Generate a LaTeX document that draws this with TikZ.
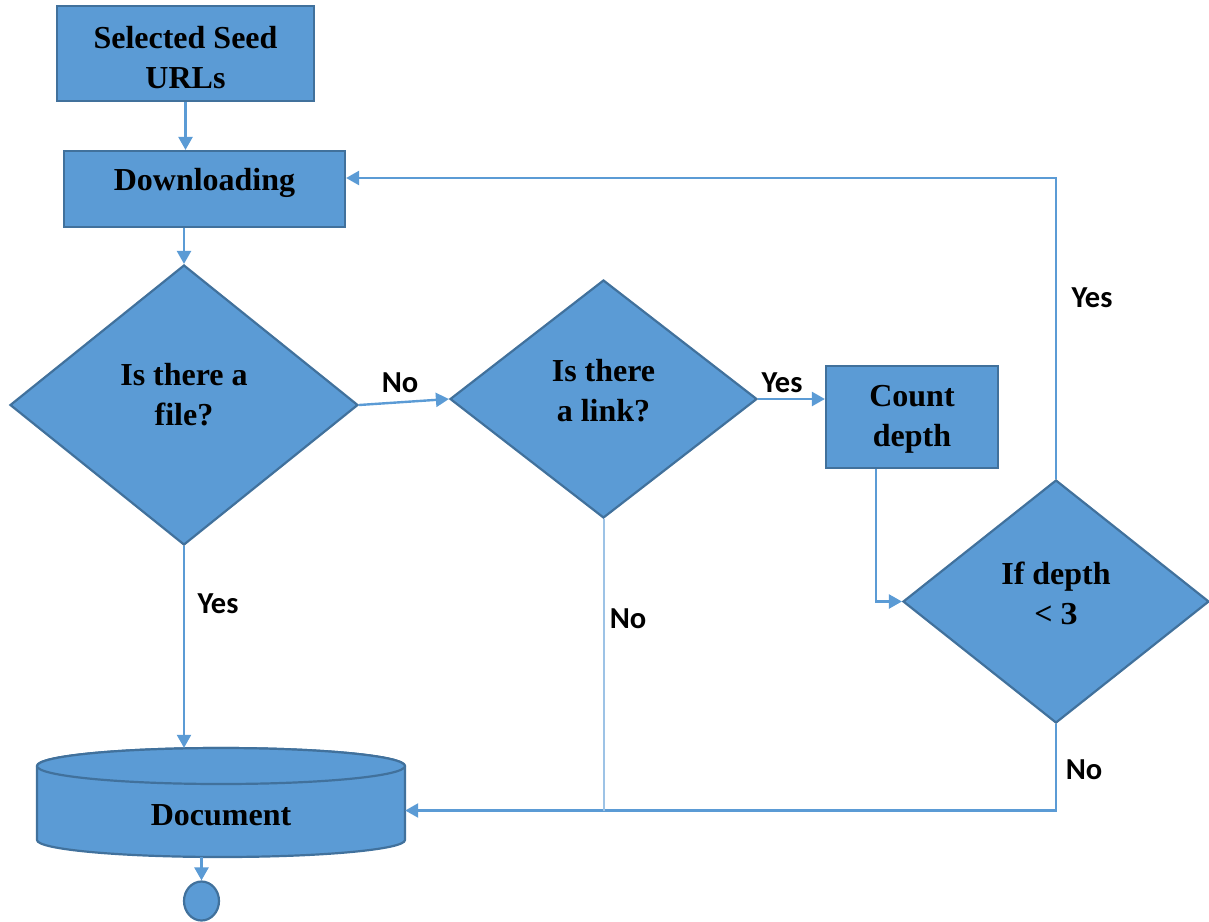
\documentclass[tikz,border=0pt]{standalone}
\usepackage{fontspec}
\usepackage{graphicx}
\setmainfont{Liberation Serif}
\newfontfamily\labfont{Carlito}
\usetikzlibrary{shapes.geometric,arrows.meta}

\definecolor{boxfill}{HTML}{5B9BD5}
\definecolor{boxline}{HTML}{41719C}
\definecolor{flow}{HTML}{5B9BD5}
\definecolor{flowlight}{HTML}{9DC3E6}

\tikzset{
  stepbox/.style={rectangle, draw=boxline, fill=boxfill, line width=2.2pt, inner sep=0pt},
  decision/.style={diamond, draw=boxline, fill=boxfill, line width=2.2pt, inner sep=0pt},
  nodetext/.style={font=\bfseries\fontsize{32}{40}\selectfont, align=center, inner sep=0pt},
  flowlabel/.style={font=\labfont\bfseries\fontsize{30.5}{34}\selectfont, inner sep=0pt},
  flowline/.style={draw=flow, line width=2.4pt},
  flowarrow/.style={flowline, -{Triangle[length=13pt,width=14pt]}},
}

\begin{document}
\begin{tikzpicture}[x=1pt, y=-1pt]
  \useasboundingbox (0,0) rectangle (1209,921);

  % process boxes
  \node[stepbox, minimum width=257pt, minimum height=95pt] (seed) at (185.5,53.5) {};
  \node[nodetext] (seedtext) at (185.5,58) {Selected Seed\\URLs};

  \node[stepbox, minimum width=281pt, minimum height=76pt] (dl) at (204.5,189) {};
  \node[nodetext] (dltext) at (204.5,183) {Downloading};

  \node[stepbox, minimum width=172pt, minimum height=102pt] (cd) at (912,417) {};
  \node[nodetext] (cdtext) at (912,419) {Count\\depth};

  % decisions
  \node[decision, minimum width=348pt, minimum height=280pt] (d1) at (184,405) {};
  \node[nodetext] (d1text) at (184,395) {Is there a\\file?};

  \node[decision, minimum width=307pt, minimum height=238pt] (d2) at (603.5,399) {};
  \node[nodetext] (d2text) at (603.5,391) {Is there\\a link?};

  \node[decision, minimum width=306pt, minimum height=243pt] (d3) at (1056,601.5) {};
  \node[nodetext] (d3text) at (1056,593) {If depth\\< \reflectbox{Ɛ}};

  % document store (cylinder)
  \node[minimum width=368pt, minimum height=109pt, inner sep=0pt] (doc) at (221,802.5) {};
  \path[fill=boxfill, draw=boxline, line width=2.2pt]
    (37,766) -- (37,840)
    arc[start angle=180, end angle=360, x radius=184pt, y radius=17pt]
    -- (405,766)
    arc[start angle=0, end angle=180, x radius=184pt, y radius=18pt] -- cycle;
  \draw[fill=boxfill, draw=boxline, line width=2.2pt]
    (221,766) ellipse[x radius=184pt, y radius=18pt];
  \node[nodetext] (doctext) at (221,815) {Document};

  % terminator
  \node[ellipse, draw=boxline, fill=boxfill, line width=2.2pt, inner sep=0pt,
        minimum width=35pt, minimum height=39pt] (end) at (201.5,901) {};

  \coordinate (docin) at ([yshift=-8pt]doc.east);
  \coordinate (dlin) at ([yshift=11pt]dl.east);

  % connectors
  \draw[flowarrow] (seed.south) -- (seed.south |- dl.north);
  \draw[flowarrow] (d1.north |- dl.south) -- (d1.north);
  \draw[flowarrow] (d1.east) -- (d2.west);
  \draw[flowarrow] (d2.east) -- (d2.east -| cd.west);
  \draw[flowarrow] ([xshift=-36pt]cd.south) |- (d3.west);
  \draw[flowarrow] (d3.north) |- (dlin);
  \draw[flowarrow] (d3.south) |- (docin);
  \draw[flowline, draw=flowlight, line width=2pt] (d2.south) -- (d2.south |- docin);
  \draw[flowarrow] (d1.south) -- (d1.south |- doc.north);
  \draw[flowarrow] (end.north |- doc.south) -- (end.north);

  % branch labels
  \node[flowlabel] (lno1) at (400,383) {No};
  \node[flowlabel] (lyes1) at (782,383) {Yes};
  \node[flowlabel] (lyes2) at (1092,298) {Yes};
  \node[flowlabel] (lno2) at (1084,770) {No};
  \node[flowlabel] (lno3) at (628,619) {No};
  \node[flowlabel] (lyes3) at (218,604) {Yes};
\end{tikzpicture}
\end{document}
